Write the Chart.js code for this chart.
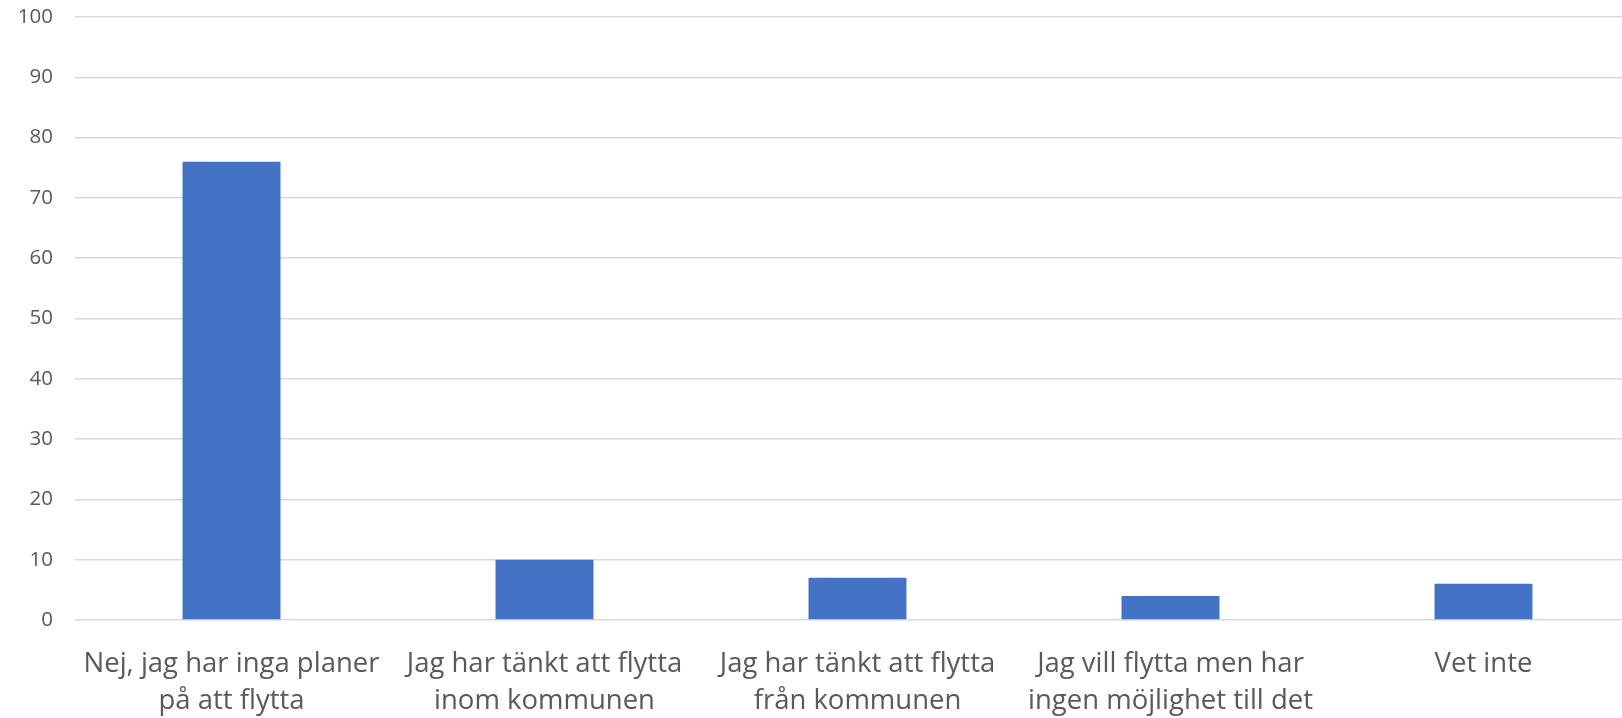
<!DOCTYPE html>
<html>
<head>
<meta charset="utf-8">
<script src="https://cdn.jsdelivr.net/npm/chart.js@4/dist/chart.umd.min.js"></script>
<style>
  html, body { margin: 0; padding: 0; background: #fff; overflow: hidden; }
  #wrap { width: 1622px; height: 718px; overflow: hidden; }
</style>
</head>
<body>
<div id="wrap"><canvas id="myChart" width="1640" height="718"></canvas></div>
<script>
// svar på frågan om flyttplaner
const categories = [
  ['Nej, jag har inga planer', 'på att flytta'],
  ['Jag har tänkt att flytta', 'inom kommunen'],
  ['Jag har tänkt att flytta', 'från kommunen'],
  ['Jag vill flytta men har', 'ingen möjlighet till det'],
  'Vet inte'
];
const values = [76, 10, 7, 4, 6];
const yMin = 0, yMax = 100, yStep = 10;

// plot area runs a little past the right edge, like the original picture
var ctx = document.getElementById('myChart').getContext('2d');
var myChart = new Chart(ctx, {
  type: 'bar',
  data: {
    labels: categories,
    datasets: [{
      label: 'Andel',
      data: values,
      backgroundColor: '#4472c4',
      borderWidth: 0,
      categoryPercentage: 1,
      barPercentage: 0.313
    }]
  },
  options: {
    responsive: false,
    animation: false,
    layout: { padding: { top: 17, right: 0, left: 0, bottom: 0 } },
    plugins: { legend: { display: false }, tooltip: { enabled: false } },
    scales: {
      x: {
        grid: { display: false },
        border: { display: false },
        ticks: {
          color: '#595959',
          font: { family: 'Open Sans', size: 27.5, lineHeight: 1.33 },
          padding: 18,
          maxRotation: 0,
          autoSkip: false
        },
        afterFit: function(s) { s.height = 98; }
      },
      y: {
        min: yMin,
        max: yMax,
        grid: { color: '#d9d9d9', lineWidth: 1.5, drawTicks: false },
        border: { display: false },
        ticks: {
          stepSize: yStep,
          color: '#595959',
          font: { family: 'Open Sans', size: 20.5 },
          padding: 22
        },
        afterFit: function(s) {
          s.width = 75;
          s.paddingTop = 0;
          s.paddingBottom = 0;
        }
      }
    }
  }
});
</script>
</body>
</html>
